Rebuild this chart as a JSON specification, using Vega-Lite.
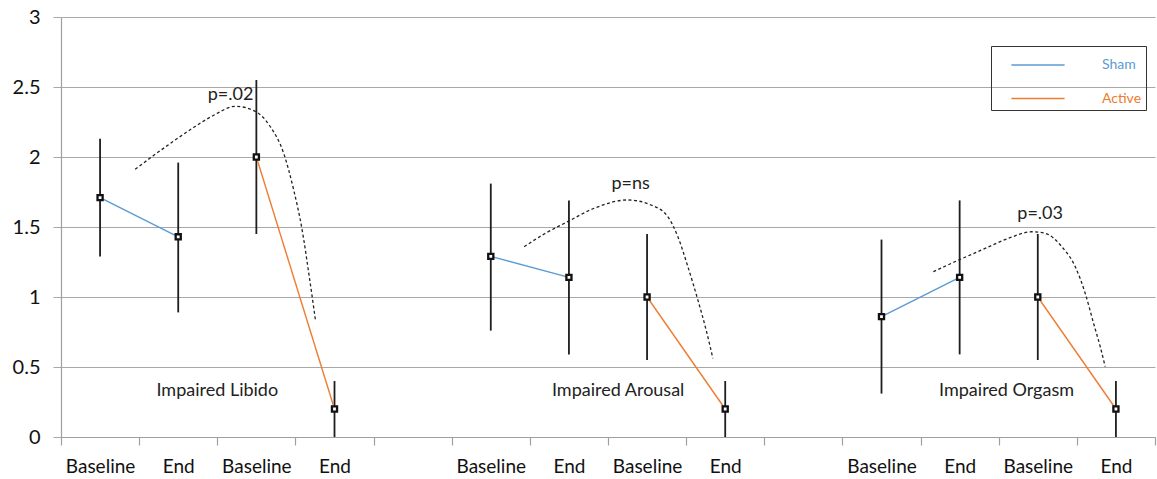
{
  "$schema": "https://vega.github.io/schema/vega-lite/v6.json",
  "width": 1094,
  "height": 420,
  "autosize": {"type": "none"},
  "padding": {"left": 61, "top": 17, "right": 2, "bottom": 42},
  "background": "white",
  "config": {
    "view": {"stroke": null},
    "font": "Lato",
    "axisX": {"grid": false, "tickColor": "#a0a0a0", "domainColor": "#a0a0a0", "domainWidth": 1.2, "tickWidth": 1.2, "labelFont": "Lato", "labelFontSize": 19, "labelColor": "#111", "labelOverlap": false, "labelFlush": false, "labelBound": false},
    "axisY": {"grid": true, "gridColor": "#a8a8a8", "gridWidth": 1.2, "tickSize": 8, "tickColor": "#a8a8a8", "domainColor": "#a0a0a0", "domainWidth": 1.2, "labelFont": "Lato", "labelFontSize": 20, "labelColor": "#111", "labelPadding": 13, "labelOverlap": false, "labelFlush": false, "labelBound": false}
  },
  "resolve": {"axis": {"x": "independent"}},
  "datasets": {
    "pts": [
      {"group": "Libido", "series": "Sham", "phase": "Baseline", "x": 0.5, "mean": 1.71, "lo": 1.29, "hi": 2.13},
      {"group": "Libido", "series": "Sham", "phase": "End", "x": 1.5, "mean": 1.43, "lo": 0.89, "hi": 1.96},
      {"group": "Libido", "series": "Active", "phase": "Baseline", "x": 2.5, "mean": 2.0, "lo": 1.45, "hi": 2.55},
      {"group": "Libido", "series": "Active", "phase": "End", "x": 3.5, "mean": 0.2, "lo": 0, "hi": 0.4},
      {"group": "Arousal", "series": "Sham", "phase": "Baseline", "x": 5.5, "mean": 1.29, "lo": 0.76, "hi": 1.81},
      {"group": "Arousal", "series": "Sham", "phase": "End", "x": 6.5, "mean": 1.14, "lo": 0.59, "hi": 1.69},
      {"group": "Arousal", "series": "Active", "phase": "Baseline", "x": 7.5, "mean": 1.0, "lo": 0.55, "hi": 1.45},
      {"group": "Arousal", "series": "Active", "phase": "End", "x": 8.5, "mean": 0.2, "lo": 0, "hi": 0.4},
      {"group": "Orgasm", "series": "Sham", "phase": "Baseline", "x": 10.5, "mean": 0.86, "lo": 0.31, "hi": 1.41},
      {"group": "Orgasm", "series": "Sham", "phase": "End", "x": 11.5, "mean": 1.14, "lo": 0.59, "hi": 1.69},
      {"group": "Orgasm", "series": "Active", "phase": "Baseline", "x": 12.5, "mean": 1.0, "lo": 0.55, "hi": 1.45},
      {"group": "Orgasm", "series": "Active", "phase": "End", "x": 13.5, "mean": 0.2, "lo": 0, "hi": 0.4}
    ],
    "curves": [
      {"curve": "A", "i": 0, "x": 0.949, "y": 1.912},
      {"curve": "A", "i": 1, "x": 1.183, "y": 2.01},
      {"curve": "A", "i": 2, "x": 1.44, "y": 2.113},
      {"curve": "A", "i": 3, "x": 1.697, "y": 2.211},
      {"curve": "A", "i": 4, "x": 1.953, "y": 2.298},
      {"curve": "A", "i": 5, "x": 2.231, "y": 2.362},
      {"curve": "A", "i": 6, "x": 2.487, "y": 2.326},
      {"curve": "A", "i": 7, "x": 2.679, "y": 2.216},
      {"curve": "A", "i": 8, "x": 2.85, "y": 2.026},
      {"curve": "A", "i": 9, "x": 2.978, "y": 1.764},
      {"curve": "A", "i": 10, "x": 3.086, "y": 1.479},
      {"curve": "A", "i": 11, "x": 3.171, "y": 1.169},
      {"curve": "A", "i": 12, "x": 3.256, "y": 0.836},
      {"curve": "B", "i": 0, "x": 5.927, "y": 1.359},
      {"curve": "B", "i": 1, "x": 6.183, "y": 1.45},
      {"curve": "B", "i": 2, "x": 6.483, "y": 1.538},
      {"curve": "B", "i": 3, "x": 6.824, "y": 1.634},
      {"curve": "B", "i": 4, "x": 7.253, "y": 1.693},
      {"curve": "B", "i": 5, "x": 7.551, "y": 1.657},
      {"curve": "B", "i": 6, "x": 7.765, "y": 1.574},
      {"curve": "B", "i": 7, "x": 7.894, "y": 1.431},
      {"curve": "B", "i": 8, "x": 8.022, "y": 1.217},
      {"curve": "B", "i": 9, "x": 8.15, "y": 0.979},
      {"curve": "B", "i": 10, "x": 8.256, "y": 0.764},
      {"curve": "B", "i": 11, "x": 8.342, "y": 0.562},
      {"curve": "C", "i": 0, "x": 11.163, "y": 1.181},
      {"curve": "C", "i": 1, "x": 11.44, "y": 1.252},
      {"curve": "C", "i": 2, "x": 11.782, "y": 1.336},
      {"curve": "C", "i": 3, "x": 12.124, "y": 1.419},
      {"curve": "C", "i": 4, "x": 12.423, "y": 1.466},
      {"curve": "C", "i": 5, "x": 12.594, "y": 1.455},
      {"curve": "C", "i": 6, "x": 12.808, "y": 1.359},
      {"curve": "C", "i": 7, "x": 12.979, "y": 1.217},
      {"curve": "C", "i": 8, "x": 13.107, "y": 1.026},
      {"curve": "C", "i": 9, "x": 13.214, "y": 0.812},
      {"curve": "C", "i": 10, "x": 13.299, "y": 0.645},
      {"curve": "C", "i": 11, "x": 13.363, "y": 0.502}
    ],
    "notes": [
      {"label": "Impaired Libido", "x": 2.0, "y": 0.33},
      {"label": "Impaired Arousal", "x": 7.13, "y": 0.33},
      {"label": "Impaired Orgasm", "x": 12.1, "y": 0.33},
      {"label": "p=.02", "x": 2.17, "y": 2.44},
      {"label": "p=ns", "x": 7.29, "y": 1.81},
      {"label": "p=.03", "x": 12.53, "y": 1.59}
    ]
  },
  "layer": [
    {
      "data": {"name": "pts"},
      "mark": {"type": "rule", "color": "#1e1e1e", "strokeWidth": 1.8},
      "encoding": {
        "x": {
          "field": "x", "type": "quantitative", "title": null,
          "scale": {"domain": [0, 14], "nice": false, "zero": false},
          "axis": {"orient": "bottom", "values": [0, 1, 2, 3, 4, 5, 6, 7, 8, 9, 10, 11, 12, 13, 14], "labels": false, "ticks": true, "tickSize": 8, "domain": true}
        },
        "y": {
          "field": "lo", "type": "quantitative", "title": null,
          "scale": {"domain": [0, 3], "nice": false},
          "axis": {"values": [0, 0.5, 1, 1.5, 2, 2.5, 3], "labelExpr": "datum.value + ''"}
        },
        "y2": {"field": "hi"}
      }
    },
    {
      "data": {"name": "pts"},
      "mark": {"type": "line", "strokeWidth": 1.4},
      "encoding": {
        "x": {
          "field": "x", "type": "quantitative", "title": null,
          "axis": {
            "orient": "bottom", "domain": false, "ticks": false, "tickSize": 0, "labelPadding": 20,
            "values": [0.5, 1.5, 2.5, 3.5, 5.5, 6.5, 7.5, 8.5, 10.5, 11.5, 12.5, 13.5],
            "labelExpr": "indexof([0.5, 2.5, 5.5, 7.5, 10.5, 12.5], datum.value) >= 0 ? 'Baseline' : 'End'"
          }
        },
        "y": {"field": "mean", "type": "quantitative", "title": null},
        "detail": {"field": "group"},
        "color": {
          "field": "series", "type": "nominal",
          "scale": {"domain": ["Sham", "Active"], "range": ["#5b9bd5", "#ed7d31"]},
          "legend": {
            "orient": "none", "legendX": 930, "legendY": 29, "title": null,
            "strokeColor": "#333", "padding": 4,
            "symbolType": "M-1.9,0H1.9", "symbolSize": 784, "symbolStrokeWidth": 1.5,
            "symbolOffset": 28, "labelOffset": 49, "rowPadding": 11.5,
            "labelFont": "Lato", "labelFontSize": 14,
            "labelColor": {"expr": "datum.value == 'Sham' ? '#5b9bd5' : '#ed7d31'"},
            "labelExpr": "datum.label + '\u00a0\u00a0\u00a0\u00a0\u00a0'"
          }
        }
      }
    },
    {
      "data": {"name": "pts"},
      "mark": {"type": "point", "shape": "square", "filled": false, "fill": "white", "stroke": "#111", "strokeWidth": 2.3, "size": 26, "opacity": 1},
      "encoding": {
        "x": {"field": "x", "type": "quantitative", "title": null, "axis": null},
        "y": {"field": "mean", "type": "quantitative", "title": null}
      }
    },
    {
      "data": {"name": "curves"},
      "mark": {"type": "line", "interpolate": "monotone", "strokeDash": [3, 2.5], "strokeWidth": 1.3, "color": "#222"},
      "encoding": {
        "x": {"field": "x", "type": "quantitative", "title": null, "axis": null},
        "y": {"field": "y", "type": "quantitative", "title": null},
        "detail": {"field": "curve"},
        "order": {"field": "i", "type": "quantitative"}
      }
    },
    {
      "data": {"name": "notes"},
      "mark": {"type": "text", "font": "Lato", "fontSize": 18, "color": "#222", "baseline": "middle", "align": "center"},
      "encoding": {
        "x": {"field": "x", "type": "quantitative", "title": null, "axis": null},
        "y": {"field": "y", "type": "quantitative", "title": null},
        "text": {"field": "label"}
      }
    }
  ]
}
